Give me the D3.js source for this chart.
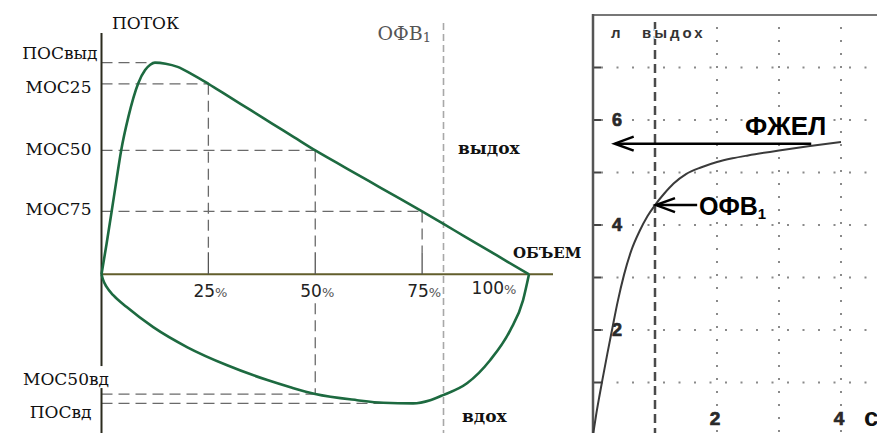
<!DOCTYPE html>
<html><head><meta charset="utf-8">
<script src="https://cdn.jsdelivr.net/npm/d3@7"></script>
<style>body{margin:0;background:#fff}svg{display:block}</style>
</head><body>
<svg id="c" width="877" height="433"></svg>
<script>
// ---------- Left panel: flow-volume loop (volume %, flow arbitrary units) ----------
const expVolume = [0, 1.2, 2.4, 3.5, 4.6, 6.3, 8.6, 10.2, 11.4, 12.5, 15, 17.8, 21, 25, 30, 35, 40, 45, 50, 55, 60, 65, 70, 75, 80, 85, 90, 95, 100];
const expFlow   = [0, 1.45, 3.0, 4.45, 5.85, 7.45, 9.03, 9.65, 9.9, 10.0, 9.95, 9.8, 9.47, 9.0, 8.37, 7.74, 7.11, 6.48, 5.85, 5.27, 4.70, 4.12, 3.55, 2.97, 2.38, 1.78, 1.19, 0.59, 0];
const inspVolume = [0, 0.4, 1.2, 2.8, 5.9, 12.1, 20.1, 29.4, 38.8, 44.2, 50, 59.8, 65.9, 72.9, 76.9, 79.9, 85.5, 90.9, 95.6, 98.6, 100];
const inspFlow   = [0, -0.28, -0.6, -1.0, -1.55, -2.5, -3.45, -4.3, -5.0, -5.34, -5.66, -5.95, -6.07, -6.1, -5.95, -5.71, -5.15, -4.06, -2.65, -1.23, 0];
const mosLabels = ["ПОСвыд", "МОС25", "МОС50", "МОС75"];
const mosVolume = [12.5, 25, 50, 75];
const mosFlow   = [10, 9.0, 5.85, 2.97];
const inLabels = ["МОС50вд", "ПОСвд"];
const inVolume = [50, 72.9];
const inFlow   = [-5.66, -6.1];
const pctTicks = [25, 50, 75, 100];
const fev1Volume = 80;

// ---------- Right panel: spirogram (s, litres) ----------
const spiroTime = [0, 0.05, 0.1, 0.15, 0.23, 0.31, 0.4, 0.5, 0.62, 0.75, 0.88, 1.0, 1.15, 1.3, 1.5, 1.75, 2.0, 2.25, 2.5, 3.0, 3.5, 4.0];
const spiroVol  = [0, 0.38, 0.72, 1.04, 1.54, 2.02, 2.55, 3.05, 3.52, 3.88, 4.17, 4.38, 4.6, 4.79, 4.97, 5.1, 5.2, 5.27, 5.325, 5.42, 5.505, 5.58];
const spiroYTicks = [1, 2, 3, 4, 5, 6, 7];
const spiroYLabels = [2, 4, 6];
const spiroXGrid = [2, 3, 4];
const spiroXLabels = [2, 4];
const fvcValue = 5.55;
const fev1Value = 4.38;

const svg = d3.select("#c");
svg.append("rect").attr("width",877).attr("height",433).attr("fill","#fff");

// ===== LEFT =====
const x = d3.scaleLinear().domain([0, 100]).range([101.5, 529]);
const y = d3.scaleLinear().domain([-7.5, 11.4]).range([433, 33]);
const L = svg.append("g");
const serif = "'DejaVu Serif', serif";
const dashCol = "#6a6a6a";

L.append("line").attr("x1", x(fev1Volume)).attr("x2", x(fev1Volume)).attr("y1", 23).attr("y2", 433)
  .attr("stroke", "#a8a8a8").attr("stroke-width", 1.6).attr("stroke-dasharray", "7,4");

const dashed = (x1, y1, x2, y2) => L.append("line").attr("x1", x1).attr("x2", x2).attr("y1", y1).attr("y2", y2)
  .attr("stroke", dashCol).attr("stroke-width", 1.3).attr("stroke-dasharray", "11,6");
mosLabels.forEach((lab, i) => {
  dashed(x(0), y(mosFlow[i]), x(mosVolume[i]), y(mosFlow[i]));
  if (i > 0) dashed(x(mosVolume[i]), y(mosFlow[i]), x(mosVolume[i]), y(0) - 22);
});
inLabels.forEach((lab, i) => dashed(x(0), y(inFlow[i]), x(inVolume[i]), y(inFlow[i])));
dashed(x(50), y(0) + 29, x(50), y(inFlow[0]));

L.append("line").attr("x1", x(0)).attr("x2", 553).attr("y1", y(0)).attr("y2", y(0))
  .attr("stroke", "#625e2c").attr("stroke-width", 2);
pctTicks.filter(d => d < 100).forEach(d => {
  L.append("line").attr("x1", x(d)).attr("x2", x(d)).attr("y1", y(0)).attr("y2", y(0) - 22)
    .attr("stroke", "#555").attr("stroke-width", 1.3);
});
pctTicks.forEach(d => {
  const t = L.append("text").attr("x", d === 100 ? x(d) - 35 : x(d) + 2).attr("y", d === 100 ? y(0) + 20 : y(0) + 23)
    .attr("text-anchor", "middle").attr("font-family", "'DejaVu Sans', sans-serif").attr("font-size", 17).attr("fill", "#222");
  t.append("tspan").text(d);
  t.append("tspan").text("%").attr("font-size", 13).attr("fill", "#555");
});

L.append("line").attr("x1", x(0)).attr("x2", x(0)).attr("y1", 33).attr("y2", 433)
  .attr("stroke", "#2b2b1e").attr("stroke-width", 2);

const lineL = d3.line().x(d => x(d[0])).y(d => y(d[1])).curve(d3.curveMonotoneX);
L.append("path").attr("d", lineL(d3.zip(expVolume, expFlow))).attr("fill", "none")
  .attr("stroke", "#1d6a40").attr("stroke-width", 2.6).attr("stroke-linejoin", "round");
L.append("path").attr("d", lineL(d3.zip(inspVolume, inspFlow))).attr("fill", "none")
  .attr("stroke", "#1d6a40").attr("stroke-width", 2.6).attr("stroke-linejoin", "round");

const txt = (s, px, py, opt = {}) => L.append("text").attr("x", px).attr("y", py).text(s)
  .attr("font-family", serif).attr("font-size", opt.size || 17).attr("font-weight", opt.bold ? "bold" : "normal")
  .attr("text-anchor", opt.anchor || "start").attr("fill", opt.fill || "#111");
const mosDy = [-4, 9, 5, 4];
mosLabels.forEach((lab, i) => txt(lab, i === 0 ? x(0) - 4 : x(0) - 10, y(mosFlow[i]) + mosDy[i], {anchor: "end"}));
L.append("rect").attr("x", 20).attr("y", y(inFlow[0]) - 28).attr("width", 95).attr("height", 22).attr("fill", "#fff");
txt(inLabels[0], 23, y(inFlow[0]) - 9);
txt(inLabels[1], x(0) - 10, y(inFlow[1]) + 15, {anchor: "end"});
txt("ПОТОК", 112, 29);
const fevT = L.append("text").attr("x", x(fev1Volume) - 66).attr("y", 40).attr("font-family", serif).attr("font-size", 19).attr("fill", "#555");
fevT.append("tspan").text("ОФВ");
fevT.append("tspan").text("1").attr("font-size", 13).attr("dy", 2);
txt("выдох", 458, 154, {bold: true, size: 17});
txt("ОБЪЕМ", 513, 258, {bold: true, size: 15});
txt("вдох", 462, 422, {bold: true, size: 17});

// ===== RIGHT =====
const tx = d3.scaleLinear().domain([0, 4]).range([593, 841]);
const vy = d3.scaleLinear().domain([0, 8]).range([435, 15]);
const R = svg.append("g");
spiroYTicks.forEach(v => {
  R.append("line").attr("x1", tx(0) + 8).attr("x2", 877).attr("y1", vy(v)).attr("y2", vy(v))
    .attr("stroke", "#8a8a8a").attr("stroke-width", 2).attr("stroke-dasharray", "2,13.5");
  R.append("line").attr("x1", tx(0)).attr("x2", tx(0) + 8).attr("y1", vy(v)).attr("y2", vy(v))
    .attr("stroke", "#444").attr("stroke-width", 2);
});
spiroXGrid.forEach(t => {
  R.append("line").attr("x1", tx(t)).attr("x2", tx(t)).attr("y1", 27).attr("y2", 433)
    .attr("stroke", "#8a8a8a").attr("stroke-width", 2).attr("stroke-dasharray", "2,11");
});
R.append("line").attr("x1", tx(1)).attr("x2", tx(1)).attr("y1", 22).attr("y2", 433)
  .attr("stroke", "#4a4a4a").attr("stroke-width", 2.5).attr("stroke-dasharray", "9,5");
R.append("line").attr("x1", tx(0)).attr("x2", 877).attr("y1", 15).attr("y2", 15).attr("stroke", "#777").attr("stroke-width", 2);
R.append("line").attr("x1", tx(0)).attr("x2", tx(0)).attr("y1", 14).attr("y2", 433).attr("stroke", "#555").attr("stroke-width", 2.5);

const sans = "'Liberation Sans', Arial, sans-serif";
const boldLabel = (s, px, py, size, anchor) => {
  const t = R.append("text").attr("x", px).attr("y", py).attr("text-anchor", anchor || "middle").text(s)
    .attr("font-family", sans).attr("font-weight", "bold").attr("font-size", size).attr("fill", "#2a2a2a");
  const bb = t.node().getBBox();
  R.insert("rect", function () { return t.node(); }).attr("x", bb.x - 1).attr("y", bb.y + 2).attr("width", bb.width + 2).attr("height", bb.height - 4).attr("fill", "#fff");
  t.attr("stroke", "#2a2a2a").attr("stroke-width", 0.7);
  return t;
};
spiroYLabels.forEach(v => boldLabel(v, 617, vy(v) + 6, 18));
spiroXLabels.forEach(t => boldLabel(t, tx(t) - 2, 425, 19));
R.append("text").attr("x", 864).attr("y", 426).text("с").attr("font-family", sans).attr("font-weight", "bold")
  .attr("font-size", 26).attr("fill", "#111");
R.append("text").attr("x", 611).attr("y", 38).text("л").attr("font-family", sans).attr("font-weight", "bold")
  .attr("font-size", 15).attr("fill", "#333");
R.append("text").attr("x", 642).attr("y", 38).text("выдох").attr("font-family", sans).attr("font-weight", "bold")
  .attr("font-size", 15).attr("letter-spacing", 3).attr("fill", "#333")
  .attr("stroke", "#fff").attr("stroke-width", 2).attr("paint-order", "stroke");

const lineR = d3.line().x(d => tx(d[0])).y(d => vy(d[1])).curve(d3.curveMonotoneX);
R.append("path").attr("d", lineR(d3.zip(spiroTime, spiroVol))).attr("fill", "none")
  .attr("stroke", "#3a3a3a").attr("stroke-width", 2);

function arrow(x1, x2, yy) {
  R.append("line").attr("x1", x1).attr("x2", x2 + 1).attr("y1", yy).attr("y2", yy).attr("stroke", "#000").attr("stroke-width", 2.5);
  R.append("path").attr("d", `M${x2 + 19},${yy - 7}L${x2},${yy}L${x2 + 19},${yy + 7}`).attr("fill", "none")
    .attr("stroke", "#000").attr("stroke-width", 2.5);
}
arrow(tx(3.52), tx(0.35), vy(fvcValue));
arrow(tx(1.68), tx(1) + 1, vy(fev1Value));
R.append("text").attr("x", 745).attr("y", 135).text("ФЖЕЛ").attr("font-family", sans).attr("font-weight", "bold")
  .attr("font-size", 26).attr("fill", "#000");
const ofv = R.append("text").attr("x", 699).attr("y", 215).attr("font-family", sans).attr("font-weight", "bold")
  .attr("font-size", 25).attr("fill", "#000");
ofv.append("tspan").text("ОФВ");
ofv.append("tspan").text("1").attr("font-size", 15).attr("dy", 4);
</script>
</body></html>
